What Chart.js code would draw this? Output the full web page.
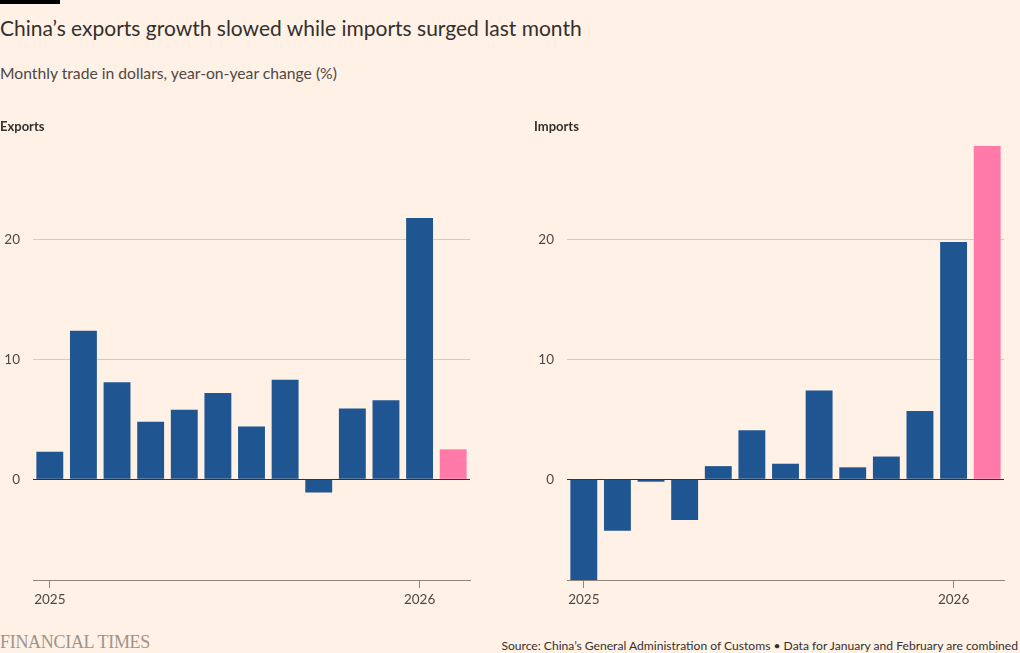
<!DOCTYPE html>
<html>
<head>
<meta charset="utf-8">
<script src="https://cdn.jsdelivr.net/npm/chart.js@4.4.1/dist/chart.umd.min.js"></script>
<style>
  html,body{margin:0;padding:0;background:#fff1e5;}
  body{width:1020px;height:653px;position:relative;overflow:hidden;font-family:Lato,"Noto Sans",sans-serif;color:#33302e;}
  .bar{position:absolute;left:0;top:0;width:60px;height:4px;background:#000;}
  .title{position:absolute;left:0;top:15px;font-size:21px;white-space:nowrap;color:#33302e;}
  .sub{position:absolute;left:0;top:64px;font-size:15.7px;white-space:nowrap;color:#4d4845;}
  .panel{position:absolute;top:118px;font-size:13px;font-weight:bold;color:#33302e;z-index:2;}
  .ft{position:absolute;left:0;top:632px;font-family:"Liberation Serif","DejaVu Serif",serif;font-size:18px;color:#9e948c;letter-spacing:-0.3px;white-space:nowrap;}
  .src{position:absolute;right:2px;top:638px;font-size:12.1px;white-space:nowrap;color:#33302e;}
  .cw{position:absolute;top:125px;}
</style>
</head>
<body>
<div class="bar"></div>
<div class="title">China’s exports growth slowed while imports surged last month</div>
<div class="sub">Monthly trade in dollars, year-on-year change (%)</div>
<div class="cw" style="left:0;width:480px;height:500px"><canvas id="c1" width="480" height="500"></canvas></div>
<div class="cw" style="left:534px;width:480px;height:500px"><canvas id="c2" width="480" height="500"></canvas></div>
<div class="panel" style="left:0">Exports</div>
<div class="panel" style="left:534px">Imports</div>
<div class="ft">FINANCIAL TIMES</div>
<div class="src">Source: China’s General Administration of Customs • Data for January and February are combined</div>
<script>
const months = ["Jan-Feb 2025","Mar 2025","Apr 2025","May 2025","Jun 2025","Jul 2025","Aug 2025","Sep 2025","Oct 2025","Nov 2025","Dec 2025","Jan-Feb 2026","Mar 2026"];
const xTickLabels = {0:"2025", 11:"2026"};
const exportsYoY = [2.3, 12.4, 8.1, 4.8, 5.8, 7.2, 4.4, 8.3, -1.1, 5.9, 6.6, 21.8, 2.5];
const importsYoY = [-8.4, -4.3, -0.2, -3.4, 1.1, 4.1, 1.3, 7.4, 1.0, 1.9, 5.7, 19.8, 27.8];
const yTicks = [0, 10, 20];
const yMin = -8.4, yMax = 27.8;

const BLUE = "#1f5590", PINK = "#ff7aa8";

function makeChart(id, data, axisW, labelPad){
  const colors = data.map((v,i)=> i===data.length-1 ? PINK : BLUE);
  new Chart(document.getElementById(id), {
    type: "bar",
    data: { labels: months, datasets: [{ data: data, backgroundColor: colors, borderWidth: 0, barPercentage: 0.8, categoryPercentage: 1.0 }] },
    options: {
      responsive: false, animation: false,
      layout: { padding: { top: 0, right: 10, left: 0, bottom: 0 } },
      plugins: { legend: { display: false }, tooltip: { enabled: false } },
      scales: {
        x: {
          type: "category", offset: true,
          grid: { display: true, drawOnChartArea: false, offset: false, tickLength: 8,
                  color: c => (xTickLabels[c.index] !== undefined ? "#8f857e" : "rgba(0,0,0,0)") },
          border: { display: true, color: "#8f857e", width: 1 },
          ticks: { autoSkip: false, maxRotation: 0, minRotation: 0, padding: 4,
                   color: "#4d4845", font: { family: "Lato, 'Noto Sans', sans-serif", size: 13.5 },
                   callback: (v, i) => xTickLabels[i] || "" },
          afterFit: s => { s.height = 45; }
        },
        y: {
          min: yMin, max: yMax,
          afterBuildTicks: s => { s.ticks = yTicks.map(v => ({ value: v })); },
          grid: { drawTicks: false, lineWidth: 1,
                  color: c => (c.tick && c.tick.value === 0 ? "#33302e" : "#d6cbc1") },
          border: { display: false },
          ticks: { padding: labelPad, color: "#4d4845", font: { family: "Lato, 'Noto Sans', sans-serif", size: 13.5 } },
          afterFit: s => { s.width = axisW; }
        }
      }
    }
  });
}
makeChart("c1", exportsYoY, 33, 13);
makeChart("c2", importsYoY, 33, 13);
</script>
</body>
</html>
